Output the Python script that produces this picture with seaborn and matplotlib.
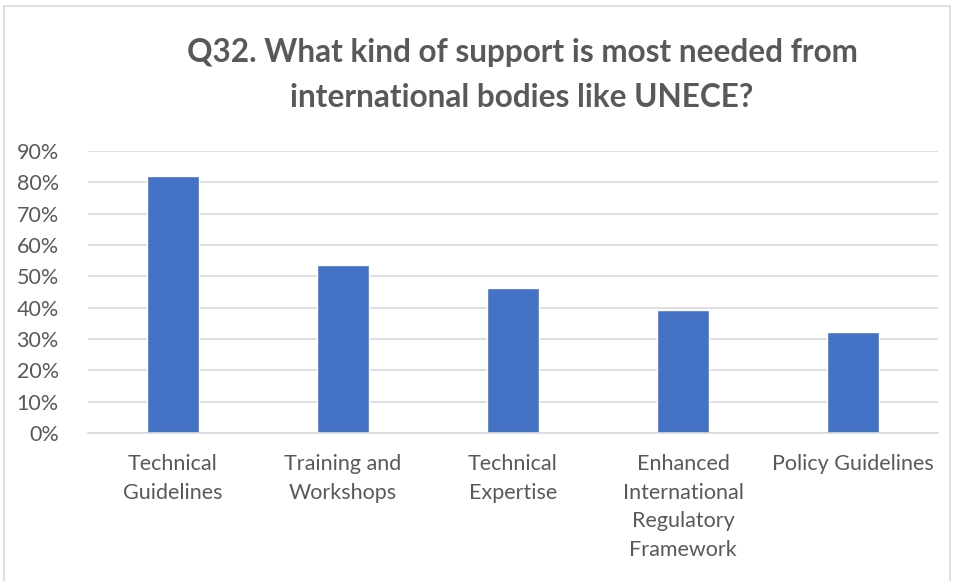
import matplotlib
matplotlib.use("Agg")
import matplotlib.pyplot as plt
import seaborn as sns
import pandas as pd
from matplotlib.patches import Rectangle
from matplotlib.ticker import FuncFormatter, MultipleLocator

categories = ["Technical\nGuidelines", "Training and\nWorkshops", "Technical\nExpertise",
              "Enhanced\nInternational\nRegulatory\nFramework", "Policy Guidelines"]
values = [82.1, 53.5, 46.3, 39.3, 32.1]
title = "Q32. What kind of support is most needed from\ninternational bodies like UNECE?"

sns.set_theme(style="white")
plt.rcParams['font.family'] = ['Lato', 'DejaVu Sans']

df = pd.DataFrame({"cat": categories, "val": values})

fig = plt.figure(figsize=(9.56, 5.81), dpi=100)
ax = fig.add_axes([88/956, 1-433/581, 850/956, (433-151)/581 * 1.0])
sns.barplot(data=df, x="cat", y="val", color="#4472C4", width=0.31, ax=ax, saturation=1)

ax.set_ylim(0, 90)
ax.set_xlim(-0.5, 4.5)
ax.yaxis.set_major_locator(MultipleLocator(10))
ax.yaxis.set_major_formatter(FuncFormatter(lambda v, p: f"{int(round(v))}%"))
ax.grid(axis="y", color="#d9d9d9", linewidth=1.2)
ax.set_axisbelow(True)
for s in ["top", "right", "left"]:
    ax.spines[s].set_visible(False)
ax.spines["bottom"].set_color("#d9d9d9")
ax.spines["bottom"].set_linewidth(1.2)
ax.set_xlabel("")
ax.set_ylabel("")
ax.tick_params(axis="both", length=0, labelsize=15.5, colors="#595959")
ax.tick_params(axis="y", pad=21)
ax.tick_params(axis="x", pad=15)
for lbl in ax.get_xticklabels():
    lbl.set_linespacing(1.55)

fig.text(522/956, 1-75/581, title, ha="center", va="center", fontsize=22.7,
         fontweight="bold", color="#595959", linespacing=1.65)

fig.patches.append(Rectangle((4/956, -0.05), 946/956, 1-6/581+0.05, transform=fig.transFigure,
                             fill=False, edgecolor="#d9d9d9", linewidth=1.2))

fig.savefig("out.png", dpi=100)
